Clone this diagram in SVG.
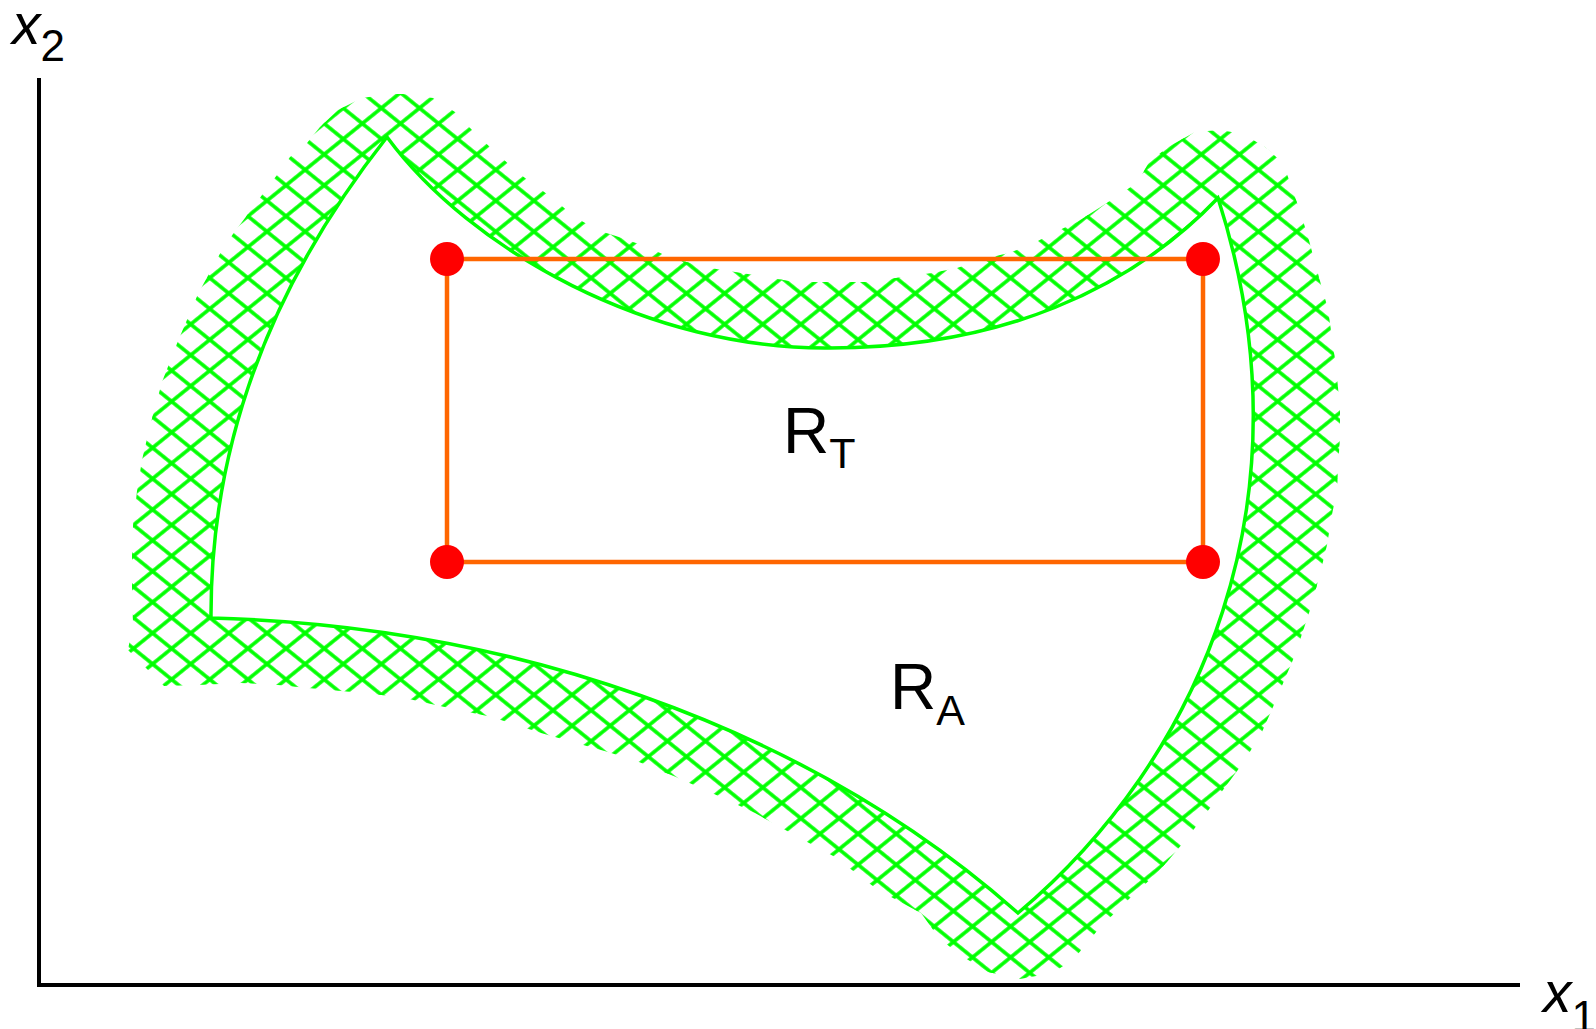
<svg xmlns="http://www.w3.org/2000/svg" width="1596" height="1029" viewBox="0 0 1596 1029">
<style>
.axis{stroke:#000;stroke-width:4;fill:none}
.lbl{font-family:"Liberation Sans",Arial,sans-serif;fill:#000}
.it{font-style:italic}
.edge{stroke:#00ff00;stroke-width:3.5;fill:#fff;stroke-linejoin:miter}
.rect{stroke:#ff6600;stroke-width:4.5;fill:none}
.pt{fill:#ff0000}
</style>
<defs>
<pattern id="h1" patternUnits="userSpaceOnUse" width="24" height="24" patternTransform="rotate(39)">
<line x1="-2" y1="12" x2="26" y2="12" stroke="#00ff00" stroke-width="3.6"/>
</pattern>
<pattern id="h2" patternUnits="userSpaceOnUse" width="24" height="24" patternTransform="rotate(-39)">
<line x1="-2" y1="12" x2="26" y2="12" stroke="#00ff00" stroke-width="3.6"/>
</pattern>
<clipPath id="band">
<path d="M362,98 L390,94 L403,94 L433,98 L455,112 L469,127 L493,150 L521,175 L551,197 L575,217 L597,230 L622,238 L647,247 L669,257 L704,267 L754,275 L795,282 L833,282 L869,282 L896,278 L932,273 L957,268 L987,258 L1009,253 L1034,243 L1055,232 L1077,222 L1099,208 L1119,195 L1138,182 L1149,162 L1168,147 L1195,132 L1220,130 L1243,134 L1265,147 L1283,163 L1293,191 L1307,233 L1320,281 L1328,309 L1333,345 L1337,377 L1340,409 L1340,438 L1338,466 L1337,495 L1333,509 L1327,545 L1320,574 L1310,610 L1295,655 L1273,707 L1262,732 L1243,763 L1223,790 L1210,808 L1188,837 L1167,862 L1152,878 L1135,893 L1118,910 L1102,925 L1087,943 L1073,960 L1052,973 L1020,979 L988,972 L960,955 L939,938 L921,913 L878,890 L835,857 L798,837 L755,813 L712,793 L676,777 L639,762 L608,752 L541,733 L492,717 L449,708 L400,697 L363,693 L308,688 L278,685 L241,683 L198,685 L164,686 L128,650 L133,622 L132,586 L132,558 L133,527 L137,491 L142,460 L150,426 L162,382 L178,341 L198,294 L222,250 L233,234 L248,214 L262,195 L277,175 L290,157 L307,143 L320,127 L338,110 Z"/>
</clipPath>
</defs>
<rect width="1596" height="1029" fill="#fff"/>

<g id="axes">
<line class="axis" x1="39" y1="78" x2="39" y2="985"/>
<line class="axis" x1="37" y1="985" x2="1520" y2="985"/>
<text class="lbl" x="12" y="44" font-size="57"><tspan class="it">x</tspan><tspan font-size="44" dy="17">2</tspan></text>
<text class="lbl" x="1543" y="1012" font-size="57"><tspan class="it">x</tspan><tspan font-size="44" dy="20">1</tspan></text>
</g>

<g id="region-A">
<g clip-path="url(#band)">
<rect x="100" y="80" width="1260" height="920" fill="url(#h1)"/>
<rect x="100" y="80" width="1260" height="920" fill="url(#h2)"/>
</g>
<path class="edge" d="M387,137 C470,250 650,350 830,348 C1000,348 1130,290 1218,198 C1315,500 1200,760 1018,913 C800,720 500,625 211,618 C210,420 290,260 387,137 Z"/>
<text class="lbl" x="890" y="709" font-size="64">R<tspan font-size="43" dy="16">A</tspan></text>
</g>

<g id="region-T">
<rect class="rect" x="447" y="259" width="756" height="303"/>
<text class="lbl" x="783" y="453" font-size="64">R<tspan font-size="43" dy="15">T</tspan></text>
</g>

<g id="corners">
<circle class="pt" cx="447" cy="259" r="17"/>
<circle class="pt" cx="1203" cy="259" r="17"/>
<circle class="pt" cx="447" cy="562" r="17"/>
<circle class="pt" cx="1203" cy="562" r="17"/>
</g>
</svg>
